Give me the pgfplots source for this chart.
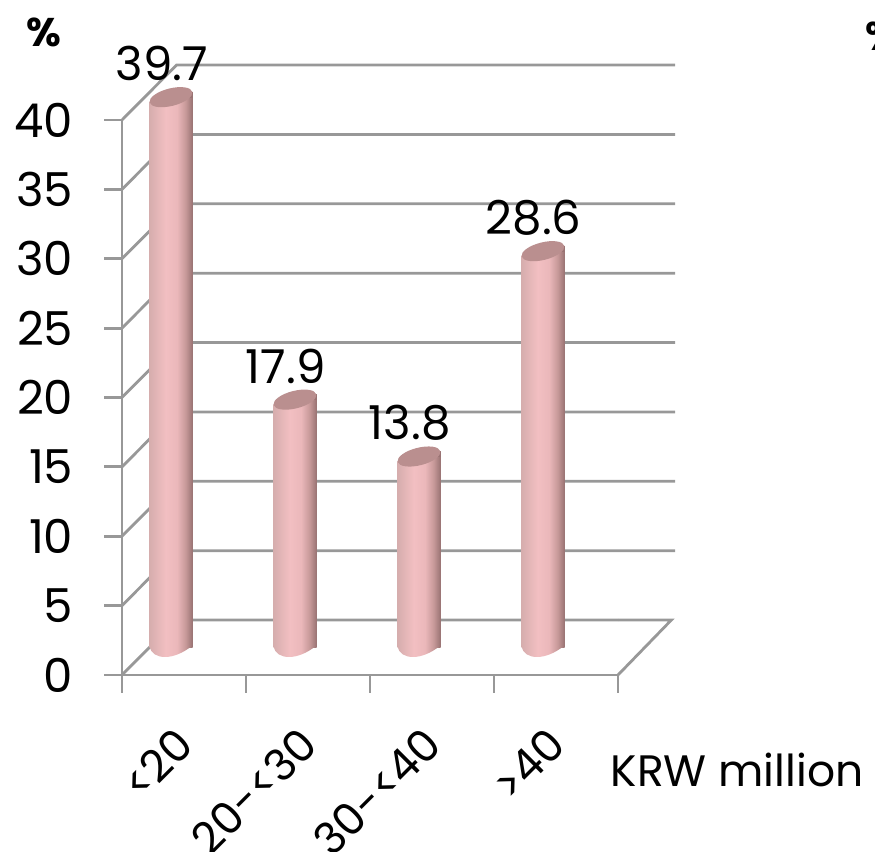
\documentclass[border=0pt]{standalone}
\usepackage{fontspec}
\usepackage{pgfplots}
\pgfplotsset{compat=1.18}
\setmainfont{Poppins}
% Round-body gradient of the cylinders, light just left of the middle
\pgfdeclarehorizontalshading{cylbody}{100bp}{
  rgb(0bp)=(0.84,0.68,0.68);
  rgb(25bp)=(0.84,0.68,0.68);
  rgb(44bp)=(0.95,0.75,0.76);
  rgb(57bp)=(0.92,0.72,0.73);
  rgb(67bp)=(0.78,0.60,0.60);
  rgb(75bp)=(0.60,0.45,0.45);
  rgb(100bp)=(0.60,0.45,0.45)}
\definecolor{cyltopcolor}{RGB}{186,143,143}
\definecolor{cylshade}{RGB}{153,115,115}
\definecolor{gridgray}{RGB}{152,152,152}
% Rounded lower end of a cylinder
\pgfdeclareplotmark{cylfoot}{%
  \pgfpathmoveto{\pgfpoint{-16.125pt}{2pt}}%
  \pgfpathlineto{\pgfpoint{-16.125pt}{1pt}}%
  \pgfpathcurveto{\pgfpoint{-14pt}{-9pt}}{\pgfpoint{2pt}{-10pt}}{\pgfpoint{16.125pt}{2pt}}%
  \pgfpathclose
  \pgfshadepath{cylbody}{0}\pgfusepath{discard}}
% Tilted upper end of a cylinder, with the square corners of the body trimmed
\pgfdeclareplotmark{cyltop}{%
  \pgfsetfillcolor{white}%
  \pgfpathmoveto{\pgfpoint{-16.6pt}{-4.2pt}}%
  \pgfpathlineto{\pgfpoint{-16.6pt}{0.5pt}}%
  \pgfpathlineto{\pgfpoint{-14pt}{0.5pt}}%
  \pgfpathclose\pgfusepathqfill
  \pgfsetfillcolor{cylshade}%
  \pgfpathmoveto{\pgfpoint{13.5pt}{-0.5pt}}%
  \pgfpathlineto{\pgfpoint{16.125pt}{-0.5pt}}%
  \pgfpathlineto{\pgfpoint{16.125pt}{4.2pt}}%
  \pgfpathlineto{\pgfpoint{13.5pt}{4.2pt}}%
  \pgfpathclose\pgfusepathqfill
  \pgfsetfillcolor{cyltopcolor}%
  \pgfpathellipse{\pgfpointorigin}{\pgfpoint{16pt}{4pt}}{\pgfpoint{-1.6pt}{6.4pt}}%
  \pgfusepathqfill}
\pgfplotsset{/pgf/number format/assume math mode=true,
  cylinder/.style={ybar, bar width=32.25pt, bar shift=0pt, draw=none, shading=cylbody}}
\begin{document}
\begin{tikzpicture}
\useasboundingbox (0,0) rectangle (656.25pt,639pt);
% Front plane: y axis, x axis, the left wall and the back wall
\begin{axis}[
  at={(91.5pt,132.75pt)}, anchor=south west,
  scale only axis, width=372pt, height=416.25pt,
  xmin=0, xmax=4, ymin=0, ymax=40, clip=false,
  axis x line*=bottom, axis y line*=left,
  axis line style={gridgray, line width=2.1pt, -},
  xtick={0,1,2,3,4}, xticklabels={},
  ytick={0,5,...,40},
  tick align=outside, major tick length=13.5pt,
  tick style={gridgray, line width=2.1pt},
  y tick label style={font=\fontsize{35}{35}\selectfont, xshift=-19.5pt},
  ylabel={\textbf{\%}}, ylabel style={font=\fontsize{30}{30}\selectfont\bfseries, rotate=-90, at={(rel axis cs:-0.158,1.157)}, anchor=center},
  xlabel={KRW million}, xlabel style={font=\fontsize{33}{33}\selectfont, at={(rel axis cs:0.985,-0.172)}, anchor=west, inner sep=0pt},
]
\addplot[gridgray, line width=2.1pt] coordinates {(0,0)  (0.44,3.96)  (4,3.96)};
\addplot[gridgray, line width=2.1pt] coordinates {(4,0)  (4.43,3.96)  (4,3.96)};
\addplot[gridgray, line width=2.1pt] coordinates {(0,5)  (0.44,8.96)  (4.46,8.96)};
\addplot[gridgray, line width=2.1pt] coordinates {(0,10) (0.44,13.96) (4.46,13.96)};
\addplot[gridgray, line width=2.1pt] coordinates {(0,15) (0.44,18.96) (4.46,18.96)};
\addplot[gridgray, line width=2.1pt] coordinates {(0,20) (0.44,23.96) (4.46,23.96)};
\addplot[gridgray, line width=2.1pt] coordinates {(0,25) (0.44,28.96) (4.46,28.96)};
\addplot[gridgray, line width=2.1pt] coordinates {(0,30) (0.44,33.96) (4.46,33.96)};
\addplot[gridgray, line width=2.1pt] coordinates {(0,35) (0.44,38.96) (4.46,38.96)};
\addplot[gridgray, line width=2.1pt] coordinates {(0,40) (0.44,43.96) (4.46,43.96)};
\end{axis}
% Cylinders, standing halfway into the floor
\begin{axis}[
  at={(81.75pt,153pt)}, anchor=south west,
  scale only axis, width=372pt, height=416.25pt,
  xmin=-0.5, xmax=3.5, ymin=0, ymax=40, clip=false,
  axis line style={draw=none},
  xtick={0,1,2,3},
  xticklabels={{<20},{20-<30},{30-<40},{>40}},
  ytick=\empty,
  tick style={draw=none},
  x tick label style={font=\fontsize{33}{33}\selectfont, rotate=45, anchor=east, xshift=-36pt, yshift=-54pt},
]
\addplot[only marks, mark=cylfoot] coordinates {(0,0) (1,0) (2,0) (3,0)};
\addplot[cylinder] coordinates {(0,39.7)};
\addplot[cylinder] coordinates {(1,17.9)};
\addplot[cylinder] coordinates {(2,13.8)};
\addplot[cylinder] coordinates {(3,28.6)};
\addplot[only marks, mark=cyltop,
  nodes near coords,
  every node near coord/.append style={font=\fontsize{35}{35}\selectfont, text=black, anchor=center, xshift=-7pt, yshift=25pt},
  /pgf/number format/.cd, fixed, fixed zerofill, precision=1
] coordinates {(0,39.7) (1,17.9) (2,13.8) (3,28.6)};
\end{axis}
\node[font=\fontsize{30}{30}\selectfont\bfseries, anchor=west, inner sep=0pt] at (649pt,612pt) {\%};
\end{tikzpicture}
\end{document}
